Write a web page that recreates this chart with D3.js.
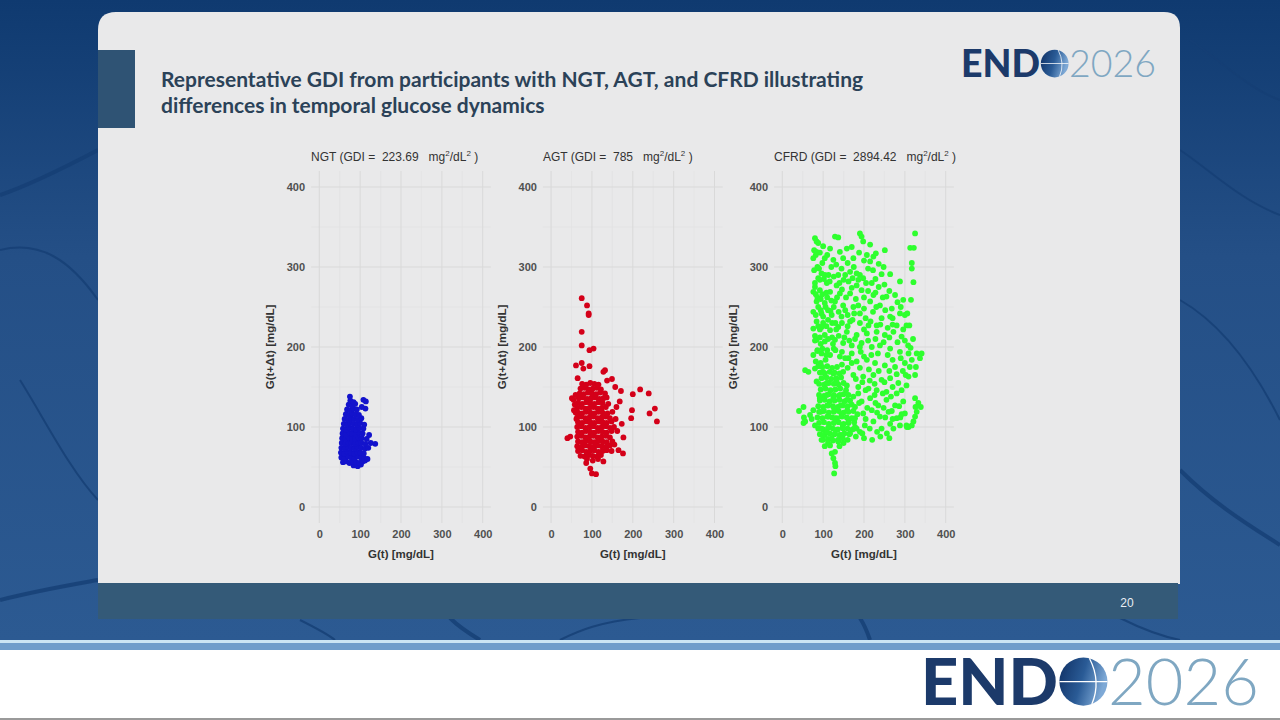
<!DOCTYPE html>
<html>
<head>
<meta charset="utf-8">
<script src="https://cdn.jsdelivr.net/npm/d3@7"></script>
<style>
  html, body { margin: 0; padding: 0; overflow: hidden; background: #1f4b80; }
  text { white-space: pre; }
</style>
</head>
<body>
<svg id="slide" width="1280" height="720"></svg>
<script>
// ---- data ----
var groupNames = ["NGT", "AGT", "CFRD"];
var gdiValues = ["223.69", "785", "2894.42"];
var pointColors = ["#1313cc", "#d40019", "#2eff2e"];
var axisTicks = [0, 100, 200, 300, 400];
var minorTicks = [50, 150, 250, 350];

// [G(t), G(t+dt)] in mg/dL
var ngtPoints = [
  [84,52],[94,51],[102,53],
  [58,56],[66,57],[74,55],[82,57],[90,56],[98,55],[106,57],[112,58],
  [54,62],[62,61],[70,63],[78,62],[86,61],[94,63],[102,62],[110,61],[118,60],
  [53,68],[61,67],[69,69],[77,68],[85,67],[93,69],[101,68],[109,67],
  [54,74],[62,73],[70,75],[78,74],[86,73],[94,75],[102,74],[112,73],[120,74],
  [55,80],[63,79],[71,81],[79,80],[87,79],[95,81],[103,80],[113,79],[126,80],[137,79],
  [56,86],[64,85],[72,87],[80,86],[88,85],[96,87],[104,86],[116,85],
  [57,92],[65,91],[73,93],[81,92],[89,91],[97,93],[106,92],[122,90],
  [58,98],[66,97],[74,99],[82,98],[90,97],[98,99],[108,98],
  [60,104],[68,103],[76,105],[84,104],[92,103],[100,105],[110,103],
  [62,110],[70,109],[78,111],[86,110],[94,109],[103,111],
  [65,116],[73,115],[81,117],[89,116],[97,115],
  [68,122],[76,121],[84,123],[92,122],[113,123],
  [72,128],[80,127],[88,129],[104,125],
  [76,133],[84,131],[108,134],[114,132],
  [75,138]
];

var agtPoints = [
  [72,64],[82,63],[92,65],[102,64],[112,63],[122,65],
  [66,70],[76,71],[86,69],[96,70],[106,71],[116,69],[126,70],[136,71],[148,70],
  [64,76],[74,75],[84,77],[94,76],[104,75],[114,77],[124,76],[134,75],[144,77],
  [66,82],[76,81],[86,83],[96,82],[106,81],[116,83],[126,82],[136,81],[150,82],
  [64,88],[74,89],[84,87],[94,88],[104,89],[114,87],[124,88],[134,89],[144,87],
  [66,94],[76,93],[86,95],[96,94],[106,93],[116,95],[126,94],[136,93],[148,95],
  [64,100],[74,101],[84,99],[94,100],[104,101],[114,99],[124,100],[134,101],[144,99],[154,100],
  [66,106],[76,105],[86,107],[96,106],[106,105],[116,107],[126,106],[136,105],[148,107],
  [64,112],[74,113],[84,111],[94,112],[104,113],[114,111],[124,112],[134,113],[144,111],
  [66,118],[76,117],[86,119],[96,118],[106,117],[116,119],[126,118],[138,117],[150,119],
  [64,124],[74,125],[84,123],[94,124],[104,125],[114,123],[124,124],[134,125],
  [66,130],[76,129],[86,131],[96,130],[106,129],[116,131],[126,130],[140,129],
  [68,136],[78,137],[88,135],[98,136],[108,137],[118,135],[128,136],[136,137],
  [70,142],[80,141],[90,143],[100,142],[110,141],[120,143],[132,142],
  [72,148],[82,149],[92,147],[102,148],[112,149],[122,147],
  [76,154],[86,153],[96,155],[106,154],[116,153],
  [58,128],[60,118],[62,110],[60,140],[55,134],[51,136],[56,121],
  [75,261],[88,252],[92,242],[92,240],[75,219],[75,202],[94,196],[104,198],
  [61,177],[75,180],[79,173],[94,176],[132,171],[128,169],[65,161],[149,160],[137,158],
  [157,150],[171,145],[218,147],[200,141],[239,142],[168,132],[254,123],[198,121],
  [241,117],[196,111],[259,107],[173,104],[40,86],[47,88],[177,87],[165,71],[176,67],
  [128,57],[96,48],[100,42],[110,41],[86,55],[160,125],[158,110],[162,95],[155,78],
  [88,60],[102,58],[115,60]
];

var cfrdPoints = [
  // dense core
  [100,84],[112,85],[124,83],[136,84],[148,86],
  [92,91],[104,90],[116,92],[128,91],[140,90],[152,92],[164,91],
  [88,98],[100,97],[112,99],[124,98],[136,97],[148,99],[160,98],[172,97],
  [90,105],[102,106],[114,104],[126,105],[138,106],[150,104],[162,105],[176,106],
  [86,112],[98,111],[110,113],[122,112],[134,111],[146,113],[158,112],[170,111],
  [90,119],[102,120],[114,118],[126,119],[138,120],[150,118],[162,119],[174,120],
  [88,126],[100,125],[112,127],[124,126],[136,125],[148,127],[160,126],
  [92,133],[104,134],[116,132],[128,133],[140,134],[152,132],[166,133],
  [90,140],[102,139],[114,141],[126,140],[138,139],[150,141],[162,140],
  [94,147],[106,148],[118,146],[130,147],[142,148],[156,146],
  [90,154],[102,153],[114,155],[126,154],[138,153],[150,155],
  [96,161],[108,162],[120,160],[132,161],[144,162],
  [92,168],[104,167],[116,169],[128,168],[140,167],
  [98,175],[110,176],[122,174],[134,175],
  // left column
  [82,182],[94,180],[106,184],[86,195],[98,198],[110,196],[80,208],[92,212],[104,215],
  [88,226],[100,230],[112,234],[82,240],[94,246],[106,250],[86,262],[98,266],[80,275],
  [92,284],[104,290],[86,300],[98,305],[82,315],[110,262],[118,245],[122,212],[126,198],[130,230],
  // upper spread
  [80,336],[84,332],[78,321],[84,319],[76,311],[129,338],[137,337],[117,323],[141,319],
  [158,323],[170,325],[190,342],[194,338],[198,332],[215,328],[251,321],[325,342],
  [313,324],[322,324],[317,305],[317,298],[321,281],[315,259],
  [104,311],[125,309],[149,311],[174,311],[207,315],[223,313],[229,317],[215,307],
  [243,291],[264,291],[288,282],[190,290],[182,292],[198,286],[166,294],[154,290],
  [137,290],[113,290],[96,292],[88,286],[80,280],[109,280],[133,277],[162,282],
  [182,277],[219,280],
  [76,269],[92,271],[117,269],[141,267],[166,267],[194,271],[223,265],[255,263],
  [276,265],[296,259],[215,257],[239,252],[268,248],[288,242],[264,238],[243,236],
  [300,240],[84,257],[104,255],[129,257],[149,252],[174,250],[190,242],[76,244],
  [96,242],[121,240],[145,238],[166,232],[211,227],[231,227],[280,227],[304,227],
  [88,330],[100,326],[92,318],[110,315],[120,300],[132,303],[145,298],[160,305],
  [175,300],[188,318],[200,308],[210,298],[222,296],[236,304],[248,300],
  [78,296],[90,298],[102,285],[116,282],[126,288],[140,280],[150,284],[172,286],
  [186,284],[205,280],[228,285],[236,275],[250,278],
  [82,266],[94,260],[108,268],[120,258],[134,262],[146,272],[156,262],[170,274],
  [180,260],[200,262],[210,270],[228,268],[246,262],[262,270],[282,256],
  [88,250],[100,238],[112,246],[126,250],[138,244],[154,246],[160,240],[176,242],
  [186,252],[200,248],[204,236],[222,244],[230,250],[252,246],[270,236],[290,250],
  // middle
  [76,223],[96,225],[117,221],[137,225],[158,219],[182,215],[207,217],[231,219],
  [251,215],[272,219],[292,213],[84,209],[104,207],[129,209],[149,205],[170,202],
  [194,205],[219,200],[239,202],[264,198],[288,194],[309,192],[329,192],[341,192],
  [317,184],[337,186],[327,175],[309,163],[325,165],[306,242],[311,227],[308,202],
  [314,199],[302,165],[312,175],
  [76,190],[96,192],[117,190],[141,188],[162,186],[182,182],[207,184],[227,180],
  [251,177],[276,175],[56,171],[64,169],[80,173],[100,169],[125,167],[149,169],
  [174,165],[198,163],[223,165],[243,159],[264,161],[284,155],[304,152],[84,157],
  [109,155],[133,157],[158,152],[186,150],[211,148],[231,146],[255,144],
  [84,232],[92,222],[108,226],[122,230],[132,222],[146,230],[160,226],[172,234],
  [190,230],[200,222],[216,232],[240,228],[258,224],[270,228],[296,222],
  [80,214],[94,204],[112,210],[124,204],[138,214],[152,212],[164,208],[178,210],
  [190,200],[210,208],[228,210],[248,206],[262,212],[282,206],[300,208],[320,210],
  [86,196],[108,190],[130,196],[146,194],[154,186],[170,192],[192,194],[200,188],
  [218,190],[234,192],[258,190],[270,184],[290,186],[300,180],
  [88,176],[146,178],[160,174],[170,180],[190,174],[212,172],[236,170],[262,170],
  [280,166],[295,170],
  // lower spread
  [41,120],[53,112],[52,105],[72,110],
  [52,125],[56,107],[68,115],[76,121],[80,102],[92,136],[94,119],[96,98],[109,140],
  [110,127],[113,113],[115,100],[125,136],[127,123],[129,111],[131,96],[141,140],
  [143,127],[145,115],[148,102],[158,134],[159,121],[162,107],[174,138],[178,125],
  [178,111],[182,98],[194,132],[198,117],[202,102],[215,136],[219,121],[223,107],
  [235,127],[239,113],[243,98],[255,134],[260,119],[264,104],[276,127],[280,111],
  [296,132],[300,117],[304,102],[309,100],[325,136],[333,130],[339,125],[329,119],
  [325,113],[321,107],[317,102],[288,102],[272,98],[326,125],[289,112],[305,100],
  [100,90],[121,86],[137,82],[117,77],[129,69],[125,61],[129,55],[127,42],[130,51],
  [121,67],[109,94],[145,90],[166,92],[190,94],[149,98],
  [180,160],[196,156],[214,158],[226,154],[250,156],[270,150],[292,146],[186,142],
  [204,146],[226,140],[246,142],[266,138],[280,142],[170,128],[188,130],[208,124],
  [228,130],[248,124],[268,120],[286,126],[184,116],[204,110],[232,118],[252,112],
  [270,110],[292,116],[178,100],[196,92],[214,98],[232,94],[256,92],[262,86],
  [240,88],[220,84],[200,86],[180,88],[160,84],[150,80],[140,76],[112,80],[96,84],[104,76]
];

var groupPoints = [ngtPoints, agtPoints, cfrdPoints];

// ---- layout ----
var W = 1280, H = 720;
var panelLeft = [311.1, 542.9, 774.1];
var panelW = 179.8;
var panelTop = 171, panelBottom = 523;

var svg = d3.select("#slide");
var defs = svg.append("defs");

// background of the slide
var bg = defs.append("linearGradient").attr("id", "bgGrad")
  .attr("x1", 0).attr("y1", 0).attr("x2", 0).attr("y2", 1);
bg.append("stop").attr("offset", "0%").attr("stop-color", "#0f3a70");
bg.append("stop").attr("offset", "40%").attr("stop-color", "#244f86");
bg.append("stop").attr("offset", "100%").attr("stop-color", "#2c5a92");
svg.append("rect").attr("width", W).attr("height", 640).attr("fill", "url(#bgGrad)");

// vein-like texture
var veins = [
  "M0,195 C30,185 60,170 98,150",
  "M0,250 C40,240 70,260 98,300",
  "M20,380 C45,420 70,470 98,500",
  "M0,600 C40,590 70,585 98,580",
  "M1180,150 C1210,170 1240,200 1280,215",
  "M1180,300 C1215,320 1250,360 1280,420",
  "M1180,470 C1210,500 1240,520 1280,545",
  "M1190,40 C1220,60 1250,90 1280,100",
  "M300,620 C320,630 330,636 335,640",
  "M450,618 C460,628 470,634 480,640",
  "M560,640 C580,630 600,622 640,618",
  "M1120,618 C1140,628 1160,636 1180,640",
  "M860,618 C865,626 868,634 870,640"
];
svg.append("g").selectAll("path").data(veins).enter().append("path")
  .attr("d", function(d) { return d; })
  .attr("fill", "none")
  .attr("stroke", "#153f74")
  .attr("stroke-width", function(d, i) { return i % 3 === 0 ? 4 : 2; })
  .attr("opacity", 0.8);

// card
svg.append("path")
  .attr("d", "M98,30 Q98,12 116,12 L1164,12 Q1180,12 1180,28 L1180,584 L98,584 Z")
  .attr("fill", "#e9e9ea");
svg.append("rect").attr("x", 98).attr("y", 583).attr("width", 1080).attr("height", 36)
  .attr("fill", "#345a78");
svg.append("text").attr("x", 1127).attr("y", 607).attr("text-anchor", "middle")
  .attr("font-family", "Liberation Sans, Arial, sans-serif").attr("font-size", 12)
  .attr("fill", "#e8eef4").text("20");

// left accent bar
svg.append("rect").attr("x", 98).attr("y", 50).attr("width", 37).attr("height", 78)
  .attr("fill", "#2f5374");

// slide title
var title = svg.append("text")
  .attr("font-family", "Lato, 'Open Sans', sans-serif")
  .attr("font-weight", "bold").attr("font-size", 21).attr("fill", "#2b4258");
title.append("tspan").attr("x", 161).attr("y", 87)
  .text("Representative GDI from participants with NGT, AGT, and CFRD illustrating");
title.append("tspan").attr("x", 161).attr("y", 113)
  .text("differences in temporal glucose dynamics");

// bottom white strip
svg.append("rect").attr("x", 0).attr("y", 640).attr("width", W).attr("height", 80).attr("fill", "#ffffff");
svg.append("rect").attr("x", 0).attr("y", 640).attr("width", W).attr("height", 3).attr("fill", "#cbe5f4");
svg.append("rect").attr("x", 0).attr("y", 643).attr("width", W).attr("height", 7).attr("fill", "#6f9dcb");
svg.append("rect").attr("x", 0).attr("y", 718).attr("width", W).attr("height", 2).attr("fill", "#9a9a9a");

// ENDO 2026 logo
var globeGrad = defs.append("linearGradient").attr("id", "globeGrad")
  .attr("x1", 0).attr("y1", 0).attr("x2", 1).attr("y2", 0.3);
globeGrad.append("stop").attr("offset", "0%").attr("stop-color", "#0f2f63");
globeGrad.append("stop").attr("offset", "55%").attr("stop-color", "#2a5b96");
globeGrad.append("stop").attr("offset", "100%").attr("stop-color", "#7ea9d6");

function drawLogo(x, baseline, size) {
  var g = svg.append("g");
  var endText = g.append("text")
    .attr("x", x).attr("y", baseline)
    .attr("font-family", "Lato, 'Open Sans', sans-serif")
    .attr("font-weight", 900).attr("font-size", size)
    .attr("fill", "#1c3a6a").text("END");
  var w = endText.node().getComputedTextLength();
  var r = size * 0.37;
  var cx = x + w + r + size * 0.02;
  var cy = baseline - size * 0.36;
  g.append("circle").attr("cx", cx).attr("cy", cy).attr("r", r).attr("fill", "url(#globeGrad)");
  g.append("line").attr("x1", cx - r).attr("x2", cx + r).attr("y1", cy).attr("y2", cy)
    .attr("stroke", "#ffffff").attr("stroke-width", size * 0.02);
  g.append("path")
    .attr("d", "M" + (cx + r * 0.25) + "," + (cy - r * 0.97) +
      " Q" + (cx + r * 0.75) + "," + cy + " " + (cx + r * 0.35) + "," + (cy + r * 0.94))
    .attr("fill", "none").attr("stroke", "#ffffff").attr("stroke-width", size * 0.02);
  g.append("text")
    .attr("x", cx + r + size * 0.01).attr("y", baseline)
    .attr("font-family", "Lato, 'Open Sans', sans-serif")
    .attr("font-weight", 300).attr("font-size", size)
    .attr("fill", "#7fa7c2").text("2026");
}
drawLogo(961, 77, 37.5);
drawLogo(921, 705, 65);

// ---- three scatter panels ----
var chartFont = "'Liberation Sans', Arial, sans-serif";

groupNames.forEach(function(name, i) {
  var left = panelLeft[i];
  var x = d3.scaleLinear().domain([-20, 420]).range([left, left + panelW]);
  var y = d3.scaleLinear().domain([-20, 420]).range([panelBottom, panelTop]);
  var g = svg.append("g").attr("class", "panel");

  // grid
  g.selectAll("line.vmin").data(minorTicks).enter().append("line")
    .attr("x1", x).attr("x2", x).attr("y1", panelTop).attr("y2", panelBottom)
    .attr("stroke", "#e1e1e1").attr("stroke-width", 0.6);
  g.selectAll("line.hmin").data(minorTicks).enter().append("line")
    .attr("y1", y).attr("y2", y).attr("x1", left).attr("x2", left + panelW)
    .attr("stroke", "#e1e1e1").attr("stroke-width", 0.6);
  g.selectAll("line.vmaj").data(axisTicks).enter().append("line")
    .attr("x1", x).attr("x2", x).attr("y1", panelTop).attr("y2", panelBottom)
    .attr("stroke", "#d9d9d9").attr("stroke-width", 1);
  g.selectAll("line.hmaj").data(axisTicks).enter().append("line")
    .attr("y1", y).attr("y2", y).attr("x1", left).attr("x2", left + panelW)
    .attr("stroke", "#d9d9d9").attr("stroke-width", 1);

  // points
  g.append("g").selectAll("circle").data(groupPoints[i]).enter().append("circle")
    .attr("cx", function(d) { return x(d[0]); })
    .attr("cy", function(d) { return y(d[1]); })
    .attr("r", 2.9)
    .attr("fill", pointColors[i]);

  // axes
  var xAxis = g.append("g").attr("transform", "translate(0," + panelBottom + ")")
    .call(d3.axisBottom(x).tickValues(axisTicks).tickSize(0).tickPadding(7));
  var yAxis = g.append("g").attr("transform", "translate(" + left + ",0)")
    .call(d3.axisLeft(y).tickValues(axisTicks).tickSize(0).tickPadding(6));
  [xAxis, yAxis].forEach(function(a) {
    a.select(".domain").remove();
    a.selectAll("text")
      .attr("font-family", chartFont).attr("font-size", 11)
      .attr("font-weight", "bold").attr("fill", "#505050");
  });

  // axis titles
  g.append("text")
    .attr("x", left + panelW / 2).attr("y", 558)
    .attr("text-anchor", "middle")
    .attr("font-family", chartFont).attr("font-size", 11.5)
    .attr("font-weight", "bold").attr("fill", "#333")
    .text("G(t) [mg/dL]");
  g.append("text")
    .attr("transform", "translate(" + (left - 37) + "," + ((panelTop + panelBottom) / 2) + ") rotate(-90)")
    .attr("text-anchor", "middle")
    .attr("font-family", chartFont).attr("font-size", 11.5)
    .attr("font-weight", "bold").attr("fill", "#333")
    .text("G(t+\u0394t) [mg/dL]");

  // panel title
  var t = g.append("text")
    .attr("x", left).attr("y", 161)
    .attr("font-family", chartFont).attr("font-size", 12)
    .attr("fill", "#333");
  t.append("tspan").text(name + " (GDI =  " + gdiValues[i] + "   mg");
  t.append("tspan").attr("font-size", 8).attr("dy", -5).text("2");
  t.append("tspan").attr("dy", 5).text("/dL");
  t.append("tspan").attr("font-size", 8).attr("dy", -5).text("2");
  t.append("tspan").attr("dy", 5).text(" )");
});
</script>
</body>
</html>
